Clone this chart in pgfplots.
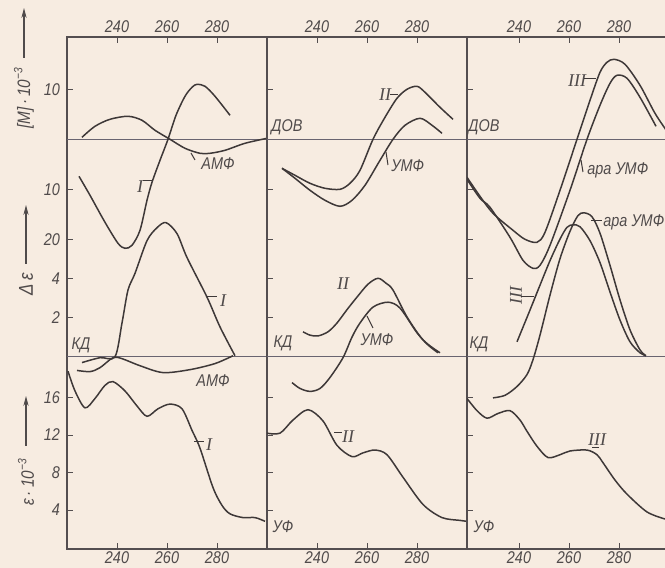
\documentclass[border=0pt]{standalone}
\usepackage{fontspec}
\setmainfont{Liberation Sans}[FakeStretch=0.85]
\newfontfamily\romfont{Liberation Serif}
\usepackage{pgfplots}
\pgfplotsset{compat=1.18}
\usetikzlibrary{arrows.meta}

\definecolor{paper}{RGB}{247,236,225}
\definecolor{ink}{RGB}{62,56,56}
\definecolor{frame}{RGB}{84,78,80}
\definecolor{zline}{RGB}{105,100,112}
\definecolor{txt}{RGB}{80,75,75}

\newcommand\lbl{\itshape\fontsize{8.5}{9}\selectfont}
\newcommand\rom[1]{{\romfont\itshape\fontsize{9}{9}\selectfont #1}}

% one column = three overlaid axes (ORD / CD / UV) sharing the same frame
\pgfplotsset{
  col/.style={scale only axis, width=100pt, height=256pt, anchor=south west,
    xmin=220, xmax=300, xtick={240,260,280},
    tick align=inside, major tick length=3pt,
    tick style={draw=frame, line width=0.5pt},
    ytick pos=left,
    /pgf/number format/assume math mode=true,
    ticklabel style={font=\lbl, text=txt},
    clip=true},
  zero/.style={extra y ticks={0}, extra y tick labels={},
    extra y tick style={grid=major, major grid style={draw=zline, line width=0.6pt},
      major tick length=0pt}},
  ord/.style={ymin=-81.94, ymax=20.46, ytick={-20,-10,10},
    xticklabel pos=right, xticklabel style={yshift=-1.5pt}, zero,
    axis line style={draw=frame, line width=0.7pt}},
  cd/.style={ymin=-9.81, ymax=16.31, ytick={2,4}, xtick=\empty, zero,
    axis line style={draw=none}},
  uv/.style={ymin=-0.15, ymax=54.44, ytick={4,8,12,16},
    xticklabel pos=left, xticklabel style={yshift=2.2pt}, axis line style={draw=none}},
  curve/.style={draw=ink, line width=0.75pt, smooth, no markers},
}

\begin{document}
\begin{tikzpicture}
\useasboundingbox (0,0) rectangle (332.5pt,284pt);
\fill[paper] (0,0) rectangle (332.5pt,284pt);

%% ---------------- column 1 : AMP ----------------
\begin{axis}[col, ord, at={(33.5pt,9.5pt)}, yticklabels={20,10,10}]
\addplot[curve] coordinates {(224.8,-7.4) (229.2,-11.2) (235.2,-16.6) (240.4,-20.8)
  (243.2,-21.8) (246,-21.2) (249.2,-18.2) (252,-12.2) (254,-8.6) (257.2,-4.2)
  (260.4,0) (263.6,4.8) (267.2,8.6) (270,10.4) (272,11) (275.2,10.6) (279.2,8.6) (285.2,4.8)};
\addplot[curve] coordinates {(226,0.4) (231.2,2.6) (237.2,4.0) (244.4,4.6) (250,3.8)
  (255.2,1.8) (261.2,0) (267.2,-1.8) (273.2,-2.8) (277.2,-2.8) (283.2,-2.2)
  (291.2,-0.8) (300,0.2)};
\end{axis}
\begin{axis}[col, cd, at={(33.5pt,9.5pt)}]
\addplot[curve] coordinates {(226,-0.3) (233.2,-0.05) (239.2,0) (242,1.72) (244.4,3.4)
  (247.2,4.25) (252,5.92) (256,6.58) (259.6,6.84) (264,6.28) (268,5.06) (276,3.04)
  (281.2,1.52) (287.2,0.05)};
\addplot[curve] coordinates {(224,-0.7) (229.2,-0.76) (233.2,-0.56) (238.4,-0.05)
  (242,-0.1) (249.2,-0.46) (258.4,-0.81) (269.2,-0.66) (279.2,-0.35) (286.4,0.05)};
\end{axis}
\begin{axis}[col, uv, at={(33.5pt,9.5pt)}]
\addplot[curve] coordinates {(220.4,18.8) (223.2,16.7) (227.2,14.9) (231.2,15.9)
  (235.2,17.3) (238.4,17.7) (243.2,16.7) (248,15.1) (252,14) (256.4,14.8) (261.2,15.3)
  (266,14.8) (270,12.5) (273.2,10.6) (278.4,6.4) (282,4.5) (285.2,3.6) (290.4,3.2)
  (295.2,3.2) (299.2,2.8)};
\end{axis}

%% ---------------- column 2 : UMP ----------------
\begin{axis}[col, ord, at={(133.5pt,9.5pt)}, yticklabels={,,}]
\addplot[curve] coordinates {(226,-5.8) (231.2,-7.2) (237.2,-8.8) (243.2,-9.8)
  (249.2,-10) (253.2,-8.8) (257.2,-6.2) (262.4,0) (267.2,4.4) (272,8.2) (276,10)
  (280,10.6) (283.2,9.4) (289.2,6.4) (294.4,4)};
\addplot[curve] coordinates {(226,-5.8) (231.2,-7.8) (237.2,-10.2) (243.2,-12.2)
  (249.2,-13.4) (254,-12.2) (259.2,-9.2) (265.2,-4.2) (270.4,0) (275.2,2.8)
  (281.2,4.2) (286,2.8) (290,1.2)};
\end{axis}
\begin{axis}[col, cd, at={(133.5pt,9.5pt)}, yticklabels={,}]
\addplot[curve] coordinates {(234.4,1.27) (237.2,1.1) (240.4,1.06) (244.4,1.27)
  (248,1.72) (252,2.4) (256,3.04) (260.4,3.7) (264.4,4) (267.6,3.75) (270.4,3.4)
  (276,2.03) (282.4,0.86) (289.2,0.2)};
\addplot[curve] coordinates {(230,-1.32) (233.2,-1.62) (237.2,-1.77) (241.2,-1.62)
  (245.2,-1.06) (250.4,-0.05) (254,1.0) (257.2,1.72) (262.4,2.53) (268.4,2.78)
  (273.2,2.48) (280,1.22) (284.4,0.6) (288.4,0.2)};
\end{axis}
\begin{axis}[col, uv, at={(133.5pt,9.5pt)}, yticklabels={,,,}]
\addplot[curve] coordinates {(220,12.2) (225.2,12.2) (230.4,13.6) (236.4,14.7)
  (242.4,13.5) (248,10.9) (254,9.7) (258.4,10.1) (263.2,10.4) (268,9.9) (274.4,7.5)
  (282.4,4.6) (290,3.2) (297.2,2.9) (300,2.8)};
\end{axis}

%% ---------------- column 3 : ara-UMP ----------------
\begin{axis}[col, ord, at={(233.5pt,9.5pt)}, xmin=219.2, xmax=299.2, yticklabels={,,}]
\addplot[curve] coordinates {(219.2,-7.6) (224.4,-11.4) (229.6,-14.8) (237.6,-18.2)
  (242.4,-20) (247.2,-20.6) (250.4,-18.6) (256.4,-10.2) (263.2,0) (268.4,7.8)
  (272.4,13.4) (275.2,15.4) (278,16) (282.4,15) (288.4,10.8) (294.4,5.2) (299.2,1.6)};
\addplot[curve] coordinates {(219.2,-8) (224.4,-11.8) (228.4,-13.6) (236.4,-19.6)
  (241.6,-24.2) (245.6,-25.8) (248.4,-25.2) (252.4,-21.2) (260.4,-10.2) (267.2,0)
  (272.4,6.8) (276.4,11.2) (279.2,12.8) (283.2,12.2) (288.4,8.4) (294.8,2.6)};
\end{axis}
\begin{axis}[col, cd, at={(233.5pt,9.5pt)}, xmin=219.2, xmax=299.2, yticklabels={,}]
\addplot[curve] coordinates {(239.2,0.76) (244.4,2.38) (248.4,3.65) (252.4,4.9)
  (256.4,6.0) (259.2,6.6) (261.6,6.73) (264.4,6.63) (268.4,5.92) (272.4,4.8)
  (276.4,3.3) (280.4,1.87) (284.4,0.76) (288.4,0.2) (290.8,0.05)};
\addplot[curve] coordinates {(229.6,-2.1) (234.4,-1.97) (239.2,-1.52) (243.2,-0.91)
  (245.6,-0.15) (248.4,1.1) (252.4,3.14) (256.4,5.0) (260.4,6.4) (263.6,7.2) (266,7.34)
  (269.2,7.14) (272.4,6.3) (276.4,4.66) (280.4,2.9) (284.4,1.37) (288.4,0.35) (290.8,0.05)};
\end{axis}
\begin{axis}[col, uv, at={(233.5pt,9.5pt)}, xmin=219.2, xmax=299.2, yticklabels={,,,}]
\addplot[curve] coordinates {(219.2,15.9) (223.2,14.6) (227.2,13.8) (231.6,14.3)
  (236.4,14.6) (240.4,13.6) (243.2,12.4) (247.2,10.8) (251.6,9.6) (256.4,9.9)
  (260.4,10.3) (267.2,10.4) (271.2,9.9) (273.6,9.05) (278.4,7.2) (283.2,5.7)
  (291.2,3.8) (298.4,3.05)};
\end{axis}

%% ---------------- labels (pixel grid, origin top left) ----------------
\begin{scope}[shift={(0pt,284pt)}, x=0.5pt, y=-0.5pt,
  lab/.style={font=\lbl, text=txt, inner sep=0pt},
  lead/.style={draw=ink, line width=0.5pt}]
  % axis titles on the left
  \node[lab, rotate=90, font=\itshape\fontsize{9}{9}\selectfont] at (24,98) {[M]\,·\,10\textsuperscript{−3}};
  \draw[txt, line width=0.6pt, -{Stealth[length=5pt,width=2.6pt]}] (24,58) -- (24,8);
  \node[lab, rotate=90, font=\itshape\fontsize{10}{10}\selectfont] at (26,284) {Δ\,ε};
  \draw[txt, line width=0.6pt, -{Stealth[length=5pt,width=2.6pt]}] (26,264) -- (26,205);
  \node[lab, rotate=90, font=\itshape\fontsize{9}{9}\selectfont] at (26,482) {ε\,·\,10\textsuperscript{−3}};
  \draw[txt, line width=0.6pt, -{Stealth[length=5pt,width=2.6pt]}] (26,446) -- (26,396);

  % panel names
  \node[lab] at (287,127) {ДОВ};
  \node[lab] at (484,127) {ДОВ};
  \node[lab] at (81,345) {КД};
  \node[lab] at (283,343) {КД};
  \node[lab] at (479,344) {КД};
  \node[lab] at (283,527) {УФ};
  \node[lab] at (484,527) {УФ};

  % column 1
  \node[lab] at (140,187) {\rom{I}};
  \draw[lead] (143,181) -- (153,181);
  \draw[lead] (191,153) -- (195,160);
  \node[lab] at (218,164) {АМФ};
  \node[lab] at (213,381) {АМФ};
  \draw[lead] (207,297) -- (217,297);
  \node[lab] at (223,301) {\rom{I}};
  \draw[lead] (194,442) -- (204,442);
  \node[lab] at (209,445) {\rom{I}};

  % column 2
  \node[lab] at (385,95) {\rom{II}};
  \draw[lead] (390,95) -- (398,95);
  \draw[lead] (386,152) -- (388,165);
  \node[lab, anchor=west] at (391,166) {УМФ};
  \node[lab] at (343,284) {\rom{II}};
  \draw[lead] (367,316) -- (373,328);
  \node[lab] at (377,340) {УМФ};
  \draw[lead] (334,433) -- (342,433);
  \node[lab] at (348,437) {\rom{II}};

  % column 3
  \node[lab] at (577,81) {\rom{III}};
  \draw[lead] (584,79) -- (596,79);
  \draw[lead] (581,160) -- (583,172);
  \node[lab, anchor=west] at (587,170) {ара УМФ};
  \draw[lead] (591,221) -- (602,221);
  \node[lab, anchor=west] at (603,222) {ара УМФ};
  \node[lab, rotate=90] at (516,296) {\rom{III}};
  \draw[lead] (521,297) -- (534,297);
  \node[lab] at (597,440) {\rom{III}};
  \draw[lead] (592,448) -- (599,448);
\end{scope}
\end{tikzpicture}
\end{document}
